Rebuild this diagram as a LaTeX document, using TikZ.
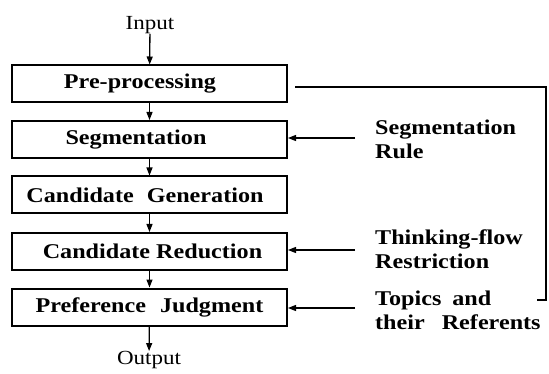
\documentclass[tikz,border=0pt]{standalone}
\usepackage{fontspec}
\setmainfont{Liberation Serif}[FakeStretch=1.15]
\usetikzlibrary{arrows.meta}
\begin{document}
\begin{tikzpicture}[x=1pt,y=-1pt,
  stage/.style={draw, line width=2pt, minimum width=275pt, minimum height=37pt, inner sep=0pt, font=\fontsize{21}{21}\selectfont\bfseries},
  lbl/.style={font=\fontsize{21}{24}\selectfont\bfseries, align=left, anchor=west, inner sep=0pt},
  io/.style={font=\fontsize{20}{20}\selectfont, inner sep=0pt},
  flow/.style={line width=1.3pt, -{Triangle[length=8pt,width=6pt]}}]
\useasboundingbox (0,0) rectangle (549,374);
\node[io] (in) at (150,25) {Input};
\node[stage] (pp) at (149.5,84) {Pre-processing\hspace*{19pt}};
\node[stage] (sg) at (149.5,139.5) {Segmentation\hspace*{27pt}};
\node[stage] (cg) at (149.5,195) {Candidate\hspace{13pt}Generation\hspace*{9pt}};
\node[stage] (cr) at (149.5,251.5) {\hspace*{6pt}Candidate Reduction};
\node[stage] (pj) at (149.5,307) {Preference\hspace{14pt}Judgment};
\node[io] (out) at (149,360) {Output};
\draw[flow] (in) -- (pp);
\draw[flow] (pp) -- (sg);
\draw[flow] (sg) -- (cg);
\draw[flow] (cg) -- (cr);
\draw[flow] (cr) -- (pj);
\draw[flow] (pj) -- (out);
\node[lbl] (sr) at (375,139.5) {Segmentation\\Rule};
\node[lbl] (tf) at (375,249) {Thinking-flow\\Restriction};
\node[lbl] (tr) at (375,310.5) {Topics\hspace{11pt}and\\their\hspace{17pt}Referents};
\coordinate (a1) at (355,138);
\coordinate (a2) at (355,250);
\coordinate (a3) at (355,308);
\draw[flow] (a1) -- (sg.east |- a1);
\draw[flow] (a2) -- (cr.east |- a2);
\draw[flow] (a3) -- (pj.east |- a3);
\coordinate (f1) at (295,87);
\coordinate (f2) at (546,87);
\coordinate (f3) at (546,300);
\coordinate (f4) at (537,300);
\draw[line width=1.5pt] (f1) -- (f2) -- (f3) -- (f4);
\end{tikzpicture}
\end{document}
